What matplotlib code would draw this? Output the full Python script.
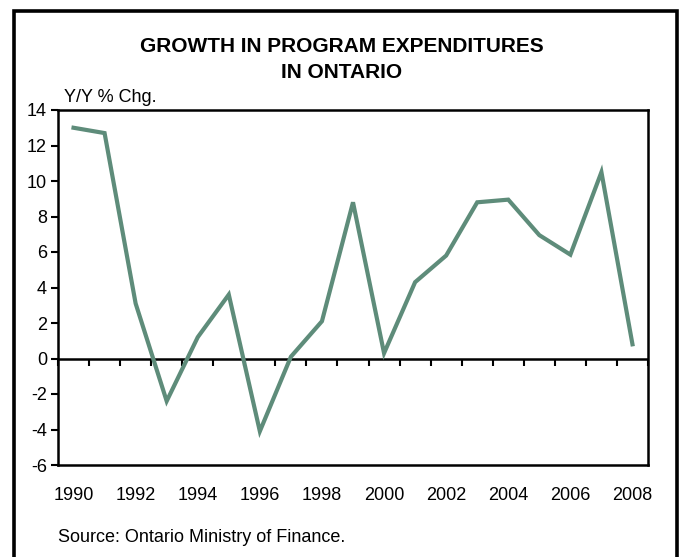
import matplotlib
matplotlib.use('Agg')
import matplotlib.pyplot as plt
from matplotlib.patches import Rectangle

plt.rcParams['font.family'] = ['Liberation Sans', 'DejaVu Sans']
plt.rcParams['axes.unicode_minus'] = False

# Y/Y % change in Ontario program expenditures
years = list(range(1990, 2009))
growth = [13.0, 12.7, 3.1, -2.4, 1.2, 3.6, -4.1, 0.1, 2.1, 8.8,
          0.3, 4.3, 5.8, 8.8, 8.95, 6.95, 5.85, 10.5, 0.8]
label_years = [str(y) for y in years[::2]]

line_color = '#5E8C7A'

fig = plt.figure(figsize=(6.79, 5.57), dpi=100)

# outer frame of the chart
fig.patches.append(Rectangle((14 / 679, -0.05), (677 - 14) / 679, 1.05 - 11 / 557,
                             transform=fig.transFigure, fill=False,
                             edgecolor='black', linewidth=2.6))

ax = fig.add_axes([58 / 679, 1 - 465 / 557, (648 - 58) / 679, (465 - 110) / 557])

x = list(range(len(years)))
ax.plot(x, growth, color=line_color, linewidth=3.0, solid_joinstyle='miter')

ax.set_xlim(-0.5, len(years) - 0.5)
ax.set_ylim(-6, 14)
ax.set_yticks(range(-6, 15, 2))
ax.tick_params(axis='y', direction='out', length=5, width=1.5, labelsize=13, pad=3)

ax.set_xticks(x[::2])
ax.set_xticklabels(label_years)
ax.tick_params(axis='x', length=0, labelsize=13, pad=16)

for s in ax.spines.values():
    s.set_linewidth(1.8)

# zero line with category tick marks
ax.axhline(0, color='black', linewidth=1.8, zorder=1)
secx = ax.secondary_xaxis(6 / 20)
secx.set_xticks([i - 0.5 for i in range(len(years) + 1)])
secx.set_xticklabels([])
secx.tick_params(axis='x', direction='out', length=5, width=1.5)
secx.spines['bottom'].set_visible(False)

fig.text(342 / 679, 1 - 47 / 557, 'GROWTH IN PROGRAM EXPENDITURES', ha='center', va='center',
         fontsize=15, fontweight='bold')
fig.text(342 / 679, 1 - 73 / 557, 'IN ONTARIO', ha='center', va='center',
         fontsize=15, fontweight='bold')
fig.text(64 / 679, 1 - 97 / 557, 'Y/Y % Chg.', ha='left', va='center', fontsize=13)
fig.text(58 / 679, 1 - 537 / 557, 'Source: Ontario Ministry of Finance.', ha='left', va='center',
         fontsize=13)

fig.savefig('out.png', dpi=100)
